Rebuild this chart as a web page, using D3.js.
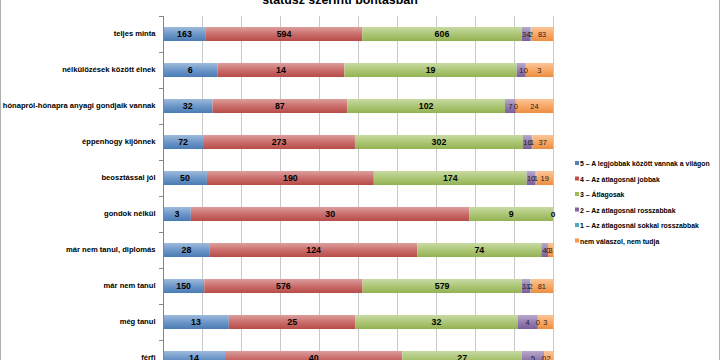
<!DOCTYPE html>
<html><head><meta charset="utf-8">
<script src="https://cdn.jsdelivr.net/npm/d3@7"></script>
<style>body{margin:0;background:#fff}svg{display:block}</style>
</head><body><svg id="c" width="720" height="360"></svg>
<script>
const categories = ["teljes minta","nélkülözések között élnek","hónapról-hónapra anyagi gondjaik vannak","éppenhogy kijönnek","beosztással jól","gondok nélkül","már nem tanul, diplomás","már nem tanul","még tanul","férfi"];
const seriesNames = ["5 – A legjobbak között vannak a világon","4 – Az átlagosnál jobbak","3 – Átlagosak","2 – Az átlagosnál rosszabbak","1 – Az átlagosnál sokkal rosszabbak","nem válaszol, nem tudja"];
const s5  = [163, 6, 32, 72, 50, 3, 28, 150, 13, 14];
const s4  = [594, 14, 87, 273, 190, 30, 124, 576, 25, 40];
const s3  = [606, 19, 102, 302, 174, 9, 74, 579, 32, 27];
const s2  = [34, 1, 7, 16, 10, 0, 4, 31, 4, 5];
const s1  = [2, 0, 0, 1, 1, 0, 0, 2, 0, 0];
const sNA = [83, 3, 24, 37, 19, 0, 3, 81, 3, 2];
const xTicks = [0, 0.1, 0.2, 0.3, 0.4, 0.5, 0.6, 0.7, 0.8, 0.9, 1];
const titleText = "státusz szerinti bontásban";

(function(){
const colors = ["#4F81BD","#C0504D","#9BBB59","#8064A2","#4BACC6","#F79646"];
const seriesArrays = [s5, s4, s3, s2, s1, sNA];
const keys = seriesNames.map((d,i)=>"k"+i);
const table = categories.map((c,ci)=>{
  const o = {cat:c};
  seriesArrays.forEach((a,si)=>{ o[keys[si]] = a[ci]; });
  return o;
});

const svg = d3.select("#c");
const font = "'Liberation Sans', Arial, sans-serif";

const defs = svg.append("defs");
colors.forEach((c,i)=>{
  const g = defs.append("linearGradient").attr("id","g"+i).attr("x1",0).attr("y1",0).attr("x2",0).attr("y2",1);
  g.append("stop").attr("offset","0%").attr("stop-color", d3.interpolateRgb(c, "#fff")(0.45));
  g.append("stop").attr("offset","55%").attr("stop-color", d3.interpolateRgb(c, "#fff")(0.15));
  g.append("stop").attr("offset","100%").attr("stop-color", d3.color(c).darker(0.15).formatHex());
});

svg.append("rect").attr("x",0.5).attr("y",-5).attr("width",719).attr("height",400)
  .attr("fill","#fff").attr("stroke","#b0b0b0").attr("stroke-width",1);

const pLeft = 163, pRight = 553, pTop = 16;
const step = 36;
const x = d3.scaleLinear().domain([0,1]).range([pLeft,pRight]);
const y = d3.scaleBand().domain(categories).range([pTop, pTop + step*categories.length]).paddingInner(0.61).paddingOuter(0.305);

svg.append("text").attr("x",340).attr("y",4).attr("text-anchor","middle")
  .style("font-family",font).style("font-weight","bold").style("font-size","12.4px")
  .text(titleText);

svg.append("g").selectAll("line").data(xTicks.slice(1)).join("line")
  .attr("x1",d=>Math.round(x(d))+0.5).attr("x2",d=>Math.round(x(d))+0.5)
  .attr("y1",pTop).attr("y2",400).attr("stroke","#c8c8c8").attr("stroke-width",1);

const stack = d3.stack().keys(keys).offset(d3.stackOffsetExpand);
const series = stack(table);
const gBars = svg.append("g");
series.forEach((s,si)=>{
  gBars.append("g").selectAll("rect").data(s).join("rect")
    .attr("x",d=>x(d[0])).attr("width",d=>Math.max(0,x(d[1])-x(d[0])))
    .attr("y",d=>y(d.data.cat)).attr("height",y.bandwidth())
    .attr("fill","url(#g"+si+")");
});

series.forEach((s,si)=>{
  const big = si < 3;
  gBars.append("g").selectAll("text").data(s).join("text")
    .attr("x",d=>(x(d[0])+x(d[1]))/2)
    .attr("y",d=>y(d.data.cat)+y.bandwidth()/2)
    .attr("dy","0.35em").attr("text-anchor","middle")
    .style("font-family",font).style("font-size", big ? "8.8px" : "7.4px")
    .style("font-weight", big ? "bold" : "normal")
    .attr("fill", big ? "#000" : "#222")
    .text(d=>d.data[keys[si]]);
});

const yAxis = d3.axisLeft(y).tickSize(0).tickPadding(8);
const ga = svg.append("g").attr("transform",`translate(${pLeft+0.5},0)`).call(yAxis);
ga.select(".domain").attr("stroke","#868686").attr("d",`M0,${pTop}V400`);
ga.selectAll("text").style("font-family",font).style("font-weight","bold").style("font-size","7.6px").attr("fill","#000");
const bounds = d3.range(categories.length+1).map(i=>pTop+i*step);
svg.append("g").selectAll("line").data(bounds).join("line")
  .attr("x1",pLeft-4).attr("x2",pLeft).attr("y1",d=>d+0.5).attr("y2",d=>d+0.5)
  .attr("stroke","#868686");

const lg = svg.append("g").attr("transform","translate(575,164)");
seriesNames.forEach((n,i)=>{
  const row = lg.append("g").attr("transform",`translate(0,${i*15.5})`);
  row.append("rect").attr("x",0).attr("y",-3).attr("width",4).attr("height",4).attr("fill",colors[i]);
  row.append("text").attr("x",5).attr("y",0).attr("dy","0.32em")
    .style("font-family",font).style("font-weight","bold").style("font-size","6.9px").attr("fill","#000").text(n);
});
})();
</script></body></html>
